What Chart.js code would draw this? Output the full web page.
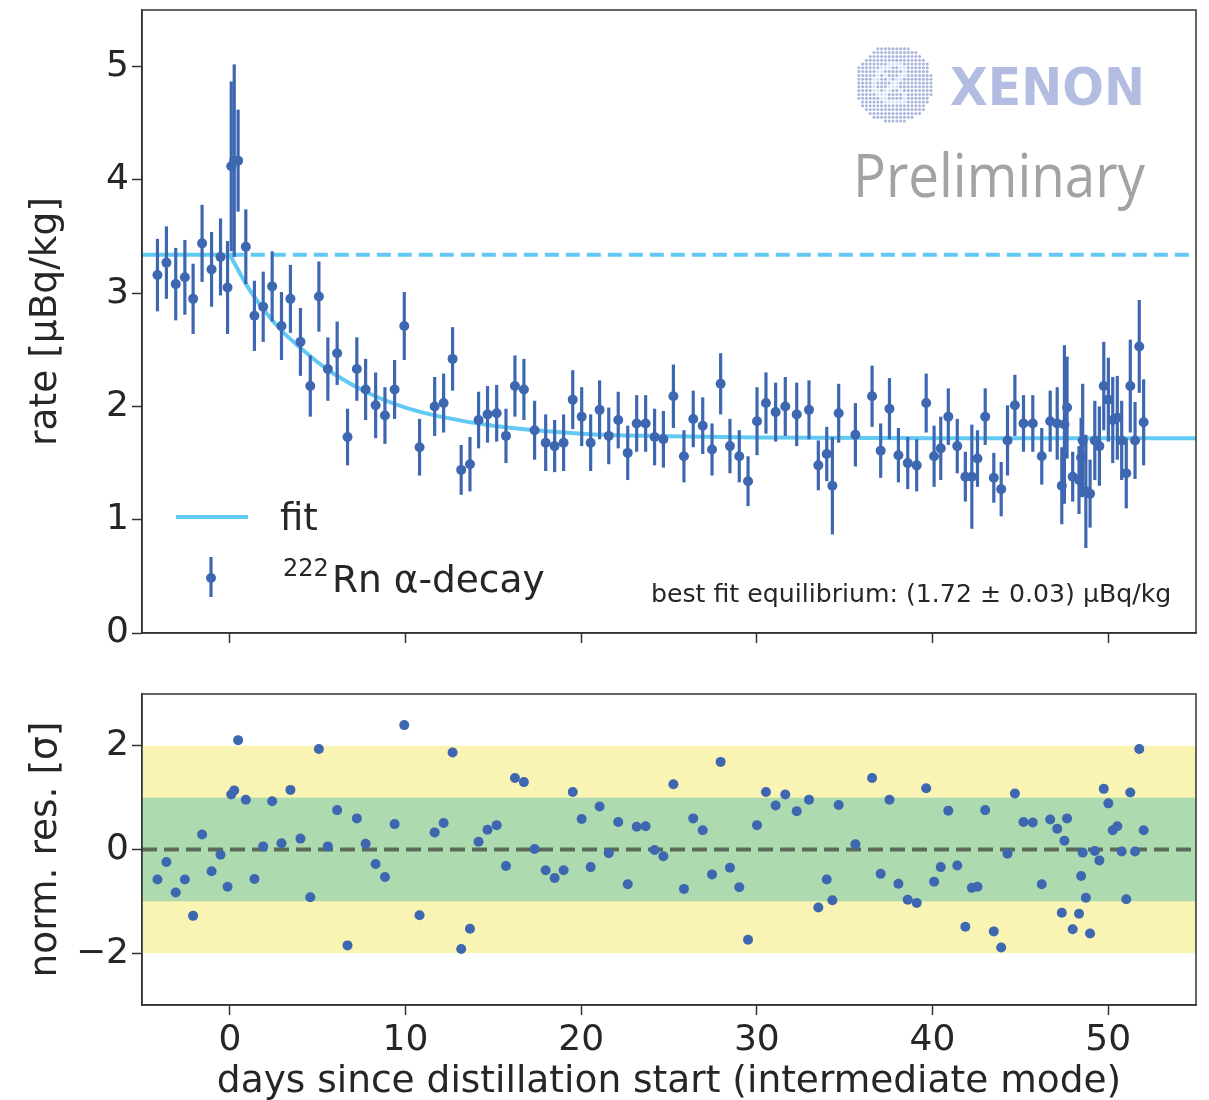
<!DOCTYPE html>
<html>
<head>
<meta charset="utf-8">
<script src="https://cdn.jsdelivr.net/npm/chart.js@4.4.1/dist/chart.umd.min.js"></script>
<style>
  html, body { margin: 0; padding: 0; background: #fff; }
  #wrap { position: relative; width: 1209px; height: 1100px; }
  .panel { position: absolute; left: 0; width: 1209px; }
  #top { top: 0; height: 660px; }
  #bottom { top: 660px; height: 440px; }
</style>
</head>
<body>
<div id="wrap">
  <div class="panel" id="top"><canvas id="rateChart"></canvas></div>
  <div class="panel" id="bottom"><canvas id="resChart"></canvas></div>
</div>
<script>
// ---- data ----
const days = [
  -4.12, -3.61, -3.08, -2.56, -2.09, -1.58, -1.04, -0.53, -0.13, 0.08,
  0.25, 0.47, 0.91, 1.40, 1.90, 2.41, 2.94, 3.45, 4.02, 4.58,
  5.07, 5.58, 6.11, 6.70, 7.23, 7.73, 8.30, 8.83, 9.38, 9.93,
  10.80, 11.66, 12.17, 12.68, 13.17, 13.67, 14.16, 14.67, 15.19, 15.72,
  16.23, 16.74, 17.35, 17.98, 18.49, 19.00, 19.52, 20.03, 20.54, 21.05,
  21.57, 22.11, 22.65, 23.16, 23.67, 24.18, 24.68, 25.25, 25.85, 26.38,
  26.92, 27.45, 27.94, 28.47, 29.00, 29.50, 30.01, 30.52, 31.07, 31.62,
  32.27, 32.97, 33.50, 33.98, 34.30, 34.66, 35.61, 36.56, 37.05, 37.55,
  38.06, 38.59, 39.10, 39.64, 40.09, 40.47, 40.90, 41.41, 41.87, 42.24,
  42.56, 43.00, 43.49, 43.91, 44.27, 44.69, 45.18, 45.71, 46.22, 46.70,
  47.10, 47.36, 47.51, 47.66, 47.98, 48.34, 48.46, 48.55, 48.73, 48.97,
  49.24, 49.50, 49.75, 50.01, 50.26, 50.52, 50.77, 51.03, 51.26, 51.53,
  51.77, 52.02
];
const rate = [
  3.16, 3.27, 3.08, 3.14, 2.95, 3.44, 3.21, 3.32, 3.05, 4.12,
  4.17, 4.17, 3.41, 2.80, 2.88, 3.06, 2.71, 2.95, 2.57, 2.18,
  2.97, 2.33, 2.47, 1.73, 2.33, 2.15, 2.01, 1.92, 2.15, 2.71,
  1.64, 2.00, 2.03, 2.42, 1.44, 1.49, 1.88, 1.93, 1.94, 1.74,
  2.18, 2.15, 1.79, 1.68, 1.65, 1.68, 2.06, 1.91, 1.68, 1.97,
  1.74, 1.88, 1.59, 1.85, 1.85, 1.73, 1.71, 2.09, 1.56, 1.89,
  1.83, 1.62, 2.20, 1.65, 1.56, 1.34, 1.87, 2.03, 1.95, 2.00,
  1.93, 1.97, 1.48, 1.58, 1.30, 1.94, 1.75, 2.09, 1.61, 1.98,
  1.57, 1.50, 1.48, 2.03, 1.56, 1.63, 1.91, 1.65, 1.38, 1.38,
  1.54, 1.91, 1.37, 1.27, 1.70, 2.01, 1.85, 1.85, 1.56, 1.87,
  1.85, 1.30, 1.84, 1.99, 1.38, 1.35, 1.55, 1.70, 1.25, 1.23,
  1.70, 1.65, 2.18, 2.06, 1.88, 1.90, 1.70, 1.41, 2.18, 1.70,
  2.53, 1.86
];
const rateErr = [
  0.32, 0.32, 0.32, 0.33, 0.31, 0.34, 0.33, 0.34, 0.41, 0.75,
  0.85, 0.45, 0.33, 0.31, 0.31, 0.31, 0.30, 0.30, 0.30, 0.27,
  0.31, 0.28, 0.28, 0.25, 0.28, 0.27, 0.29, 0.25, 0.26, 0.30,
  0.25, 0.26, 0.26, 0.28, 0.22, 0.24, 0.25, 0.25, 0.25, 0.24,
  0.27, 0.27, 0.26, 0.25, 0.23, 0.25, 0.26, 0.26, 0.25, 0.26,
  0.25, 0.25, 0.24, 0.25, 0.25, 0.25, 0.25, 0.28, 0.23, 0.25,
  0.25, 0.23, 0.27, 0.24, 0.23, 0.22, 0.30, 0.27, 0.26, 0.26,
  0.28, 0.26, 0.22, 0.24, 0.43, 0.26, 0.28, 0.27, 0.24, 0.27,
  0.24, 0.23, 0.23, 0.26, 0.27, 0.28, 0.25, 0.24, 0.22, 0.46,
  0.25, 0.25, 0.22, 0.24, 0.31, 0.27, 0.25, 0.25, 0.25, 0.27,
  0.32, 0.34, 0.70, 0.45, 0.22, 0.30, 0.35, 0.50, 0.50, 0.30,
  0.35, 0.35, 0.39, 0.37, 0.38, 0.37, 0.35, 0.31, 0.41, 0.34,
  0.41, 0.38
];
const normRes = [
  -0.58, -0.24, -0.83, -0.58, -1.28, 0.29, -0.42, -0.10, -0.72, 1.06,
  1.14, 2.11, 0.96, -0.57, 0.06, 0.93, 0.12, 1.15, 0.21, -0.92,
  1.94, 0.06, 0.76, -1.85, 0.60, 0.11, -0.28, -0.53, 0.49, 2.40,
  -1.27, 0.33, 0.51, 1.87, -1.92, -1.53, 0.15, 0.38, 0.47, -0.32,
  1.38, 1.30, 0.01, -0.40, -0.55, -0.40, 1.11, 0.59, -0.34, 0.83,
  -0.07, 0.53, -0.67, 0.44, 0.45, -0.01, -0.13, 1.26, -0.76, 0.60,
  0.37, -0.48, 1.69, -0.35, -0.73, -1.74, 0.47, 1.11, 0.85, 1.06,
  0.74, 0.96, -1.12, -0.58, -0.98, 0.86, 0.10, 1.38, -0.47, 0.96,
  -0.66, -0.97, -1.03, 1.18, -0.62, -0.34, 0.75, -0.31, -1.49, -0.74,
  -0.72, 0.76, -1.58, -1.89, -0.08, 1.08, 0.53, 0.52, -0.67, 0.58,
  0.40, -1.22, 0.17, 0.60, -1.54, -1.24, -0.51, -0.06, -0.93, -1.62,
  -0.03, -0.21, 1.17, 0.89, 0.37, 0.45, -0.04, -0.96, 1.10, -0.04,
  1.94, 0.37
];
// fit curve
const fitDays = [0, 1, 2, 3, 4, 5, 6, 8, 10, 12, 15, 20, 25, 30, 40, 55];
const fitRate = [3.34, 3.06, 2.84, 2.66, 2.52, 2.39, 2.28, 2.11, 1.99, 1.91, 1.83, 1.76, 1.737, 1.725, 1.72, 1.72];
const preDays = [-5, 0];
const preRate = [3.34, 3.34];
const startDays = [0, 55];
const startRate = [3.34, 3.34];
const xTicks = [0, 10, 20, 30, 40, 50];
const rateTicks = [0, 1, 2, 3, 4, 5];
const resTicks = [-2, 0, 2];
const sigmaBands = [2, 1];

const dotBlue = '#3e67b1';
const fitBlue = '#62c9f3';
const textCol = '#262626';
const frameCol = '#333333';

Chart.defaults.font.family = "'DejaVu Sans', sans-serif";
Chart.defaults.font.size = 36;
Chart.defaults.color = textCol;
Chart.defaults.animation = false;

const pts = (xs, ys) => xs.map((v, i) => ({ x: v, y: ys[i] }));
const setTicks = (vals) => (scale) => { scale.ticks = vals.map(v => ({ value: v })); };
const minus = (v) => (v < 0 ? '\u2212' + Math.abs(v) : String(v));
const fixWidth = (w) => (s) => { s.width = w; s.paddingTop = 0; s.paddingBottom = 0; };
const fixHeight = (h) => (s) => { s.height = h; s.paddingLeft = 0; s.paddingRight = 0; };

const frame = {
  id: 'frame',
  afterDraw(chart) {
    const { ctx, chartArea: a } = chart;
    ctx.save();
    ctx.strokeStyle = frameCol;
    ctx.lineWidth = 1.5;
    ctx.strokeRect(a.left, a.top, a.right - a.left, a.bottom - a.top);
    ctx.restore();
  }
};

const errorBars = {
  id: 'errorBars',
  beforeDatasetDraw(chart, args) {
    if (args.index !== 0) return;
    const { ctx, scales: { x, y } } = chart;
    ctx.save();
    ctx.strokeStyle = dotBlue;
    ctx.lineWidth = 3.2;
    days.forEach((d, i) => {
      const px = x.getPixelForValue(d);
      ctx.beginPath();
      ctx.moveTo(px, y.getPixelForValue(rate[i] - rateErr[i]));
      ctx.lineTo(px, y.getPixelForValue(rate[i] + rateErr[i]));
      ctx.stroke();
    });
    ctx.restore();
  }
};

const decorations = {
  id: 'decorations',
  afterDraw(chart) {
    const ctx = chart.ctx;
    ctx.save();
    // XENON logo dots
    const cx = 894, cy = 84, R = 39, step = 3.8;
    for (let gy = -R; gy <= R; gy += step) {
      for (let gx = -R; gx <= R; gx += step) {
        const r = Math.hypot(gx, gy);
        if (r > R) continue;
        const ring = Math.abs(r - 19) < 2.5 && gx < 14;
        const cross = r < 17 && (Math.abs(gx - gy) < 2.6 || Math.abs(gx + gy) < 2.6);
        ctx.fillStyle = ring || cross ? '#cfe6f7' : '#aab4dd';
        ctx.beginPath();
        ctx.arc(cx + gx, cy + gy, 1.5, 0, Math.PI * 2);
        ctx.fill();
      }
    }
    ctx.textBaseline = 'alphabetic';
    ctx.textAlign = 'left';
    ctx.fillStyle = '#b3bde2';
    ctx.font = "bold 52px 'DejaVu Sans'";
    ctx.fillText('XENON', 950, 105, 195);
    ctx.fillStyle = '#a3a3a3';
    ctx.font = "60px 'Open Sans'";
    ctx.fillText('Preliminary', 853, 197, 292);

    // legend
    ctx.strokeStyle = fitBlue;
    ctx.lineWidth = 4;
    ctx.beginPath();
    ctx.moveTo(176, 517);
    ctx.lineTo(248, 517);
    ctx.stroke();
    ctx.strokeStyle = dotBlue;
    ctx.lineWidth = 3.2;
    ctx.beginPath();
    ctx.moveTo(211, 557);
    ctx.lineTo(211, 597);
    ctx.stroke();
    ctx.fillStyle = dotBlue;
    ctx.beginPath();
    ctx.arc(211, 578, 5, 0, Math.PI * 2);
    ctx.fill();

    ctx.fillStyle = textCol;
    ctx.font = "37px 'DejaVu Sans'";
    ctx.fillText('fit', 280, 530);
    ctx.font = "24px 'DejaVu Sans'";
    ctx.fillText('222', 283, 576);
    ctx.font = "37.5px 'DejaVu Sans'";
    ctx.fillText('Rn \u03b1-decay', 332, 592);
    ctx.font = "25.2px 'DejaVu Sans'";
    ctx.fillText('best fit equilibrium: (1.72 \u00b1 0.03) \u00b5Bq/kg', 651, 602);
    ctx.restore();
  }
};

const bands = {
  id: 'bands',
  beforeDatasetsDraw(chart) {
    const { ctx, chartArea: a, scales: { y } } = chart;
    const cols = ['#f9f3b4', '#aedab0'];
    ctx.save();
    sigmaBands.forEach((s, i) => {
      const top = y.getPixelForValue(s);
      const bot = y.getPixelForValue(-s);
      ctx.fillStyle = cols[i];
      ctx.fillRect(a.left, top, a.right - a.left, bot - top);
    });
    ctx.restore();
  }
};

const axisBase = {
  grid: { drawOnChartArea: false, drawTicks: true, tickLength: 10, tickWidth: 1.5, tickColor: frameCol },
  border: { display: true, color: frameCol, width: 1.5 }
};
const titleFont = { size: 37.5, lineHeight: 1 };

new Chart(document.getElementById('rateChart'), {
  type: 'scatter',
  data: {
    datasets: [
      {
        label: 'rate',
        data: pts(days, rate),
        backgroundColor: dotBlue,
        borderColor: dotBlue,
        pointRadius: 5,
        borderWidth: 0,
        order: 0
      },
      {
        type: 'line',
        label: 'fit',
        data: pts(fitDays, fitRate),
        borderColor: fitBlue,
        borderWidth: 4,
        pointRadius: 0,
        cubicInterpolationMode: 'monotone',
        order: 2
      },
      {
        type: 'line',
        label: 'fit before',
        data: pts(preDays, preRate),
        borderColor: fitBlue,
        borderWidth: 4,
        pointRadius: 0,
        order: 2
      },
      {
        type: 'line',
        label: 'initial level',
        data: pts(startDays, startRate),
        borderColor: fitBlue,
        borderWidth: 4,
        borderDash: [14, 7],
        pointRadius: 0,
        order: 1
      }
    ]
  },
  options: {
    responsive: true,
    maintainAspectRatio: false,
    layout: { padding: { top: 10, right: 13, left: 0, bottom: 0 } },
    plugins: { legend: { display: false }, tooltip: { enabled: false } },
    scales: {
      x: {
        ...axisBase,
        type: 'linear',
        min: -5,
        max: 55,
        afterBuildTicks: setTicks(xTicks),
        ticks: { display: false },
        afterFit: fixHeight(27)
      },
      y: {
        ...axisBase,
        min: 0,
        max: 5.5,
        afterBuildTicks: setTicks(rateTicks),
        ticks: { padding: 3, callback: minus },
        title: { display: true, text: 'rate [\u00b5Bq/kg]', font: titleFont, padding: { top: 28, bottom: 0 } },
        afterFit: fixWidth(142)
      }
    }
  },
  plugins: [errorBars, frame, decorations]
});

new Chart(document.getElementById('resChart'), {
  type: 'scatter',
  data: {
    datasets: [
      {
        label: 'residual',
        data: pts(days, normRes),
        backgroundColor: dotBlue,
        pointRadius: 5,
        borderWidth: 0,
        order: 0
      },
      {
        type: 'line',
        label: 'zero',
        data: pts([-5, 55], [0, 0]),
        borderColor: '#5b6a59',
        borderWidth: 4,
        borderDash: [15, 7],
        pointRadius: 0,
        order: 1
      }
    ]
  },
  options: {
    responsive: true,
    maintainAspectRatio: false,
    layout: { padding: { top: 34, right: 13, left: 0, bottom: 0 } },
    plugins: { legend: { display: false }, tooltip: { enabled: false } },
    scales: {
      x: {
        ...axisBase,
        type: 'linear',
        min: -5,
        max: 55,
        afterBuildTicks: setTicks(xTicks),
        ticks: { padding: 4, maxRotation: 0 },
        title: { display: true, text: 'days since distillation start (intermediate mode)', font: titleFont, padding: { top: 0, bottom: -1 } },
        afterFit: fixHeight(95)
      },
      y: {
        ...axisBase,
        min: -3,
        max: 3,
        afterBuildTicks: setTicks(resTicks),
        ticks: { padding: 3, callback: minus },
        title: { display: true, text: 'norm. res. [\u03c3]', font: titleFont, padding: { top: 28, bottom: 0 } },
        afterFit: fixWidth(142)
      }
    }
  },
  plugins: [bands, frame]
});
</script>
</body>
</html>
